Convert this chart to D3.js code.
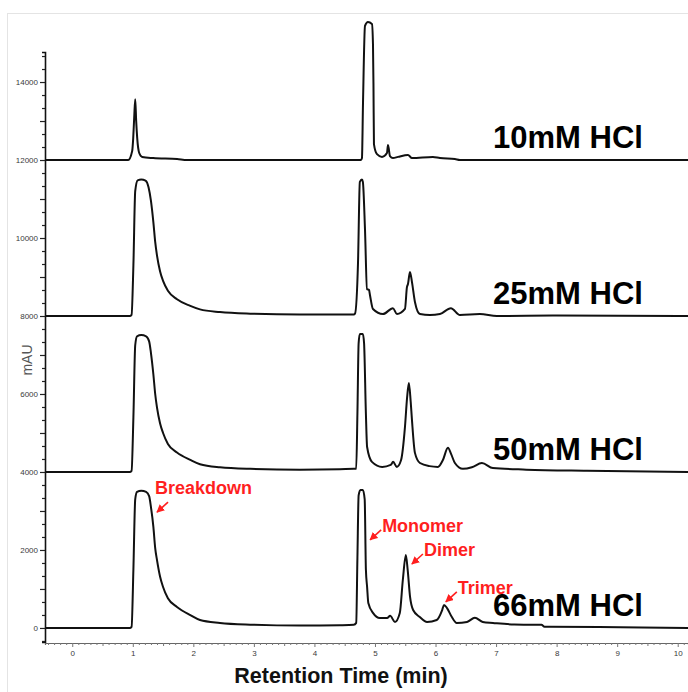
<!DOCTYPE html>
<html><head><meta charset="utf-8">
<script src="https://cdn.jsdelivr.net/npm/d3@7"></script>
<style>body{margin:0;background:#fff;} svg{display:block;}</style>
</head><body><svg id="c" width="688" height="692"></svg>
<script>
// ---------- data ----------
const seriesNames = ["10mM HCl", "25mM HCl", "50mM HCl", "66mM HCl"];
const seriesOffsets = [12000, 8000, 4000, 0];

// [retention time (min), mAU above the trace's own baseline]
const trace10mM = [[-0.45,0],[0.924,0],[0.99,230],[1.007,560],[1.023,1080],[1.04,1560],[1.056,1000],[1.073,560],[1.106,180],[1.155,80],[1.337,50],[1.733,25],[1.898,0],[4.77,0],[4.785,50],[4.802,1440],[4.835,3440],[4.884,3540],[4.95,3490],[4.967,2970],[4.975,1950],[4.983,410],[5.033,150],[5.116,80],[5.198,180],[5.215,385],[5.248,100],[5.297,50],[5.38,80],[5.545,130],[5.611,50],[5.957,80],[6.073,50],[6.32,25],[6.403,0],[10.17,0]];
const trace25mM = [[-0.45,0],[0.95,0],[0.98,30],[1.01,1300],[1.04,3200],[1.08,3480],[1.14,3500],[1.21,3470],[1.26,3300],[1.30,2950],[1.34,2400],[1.37,1900],[1.40,1550],[1.45,1150],[1.50,900],[1.58,650],[1.73,430],[1.95,260],[2.11,170],[2.44,100],[2.94,60],[3.76,40],[4.42,40],[4.65,40],[4.67,60],[4.72,1380],[4.75,3440],[4.785,3500],[4.80,3440],[4.835,2230],[4.868,690],[4.901,670],[4.917,540],[4.967,180],[5.132,50],[5.297,200],[5.363,50],[5.495,180],[5.528,740],[5.545,820],[5.578,1130],[5.611,870],[5.66,360],[5.743,50],[5.908,25],[6.073,50],[6.254,200],[6.403,25],[6.733,50],[7.013,0],[8.0,10],[10.17,0]];
const trace50mM = [[-0.45,0],[0.95,0],[0.98,30],[1.01,1400],[1.04,3250],[1.07,3480],[1.14,3510],[1.22,3480],[1.27,3350],[1.30,3050],[1.34,2500],[1.37,2000],[1.40,1650],[1.45,1250],[1.50,1000],[1.58,720],[1.73,500],[1.95,310],[2.11,200],[2.44,120],[2.94,80],[3.76,60],[4.42,70],[4.65,80],[4.69,80],[4.71,1500],[4.73,3300],[4.75,3540],[4.80,3540],[4.82,3300],[4.85,1500],[4.87,640],[4.95,260],[5.12,130],[5.26,180],[5.30,260],[5.36,130],[5.43,300],[5.495,1150],[5.53,1900],[5.56,2280],[5.59,1800],[5.611,1330],[5.66,490],[5.743,230],[5.9,150],[6.04,130],[6.12,300],[6.205,620],[6.26,450],[6.32,230],[6.452,80],[6.6,120],[6.766,230],[6.947,100],[7.5,60],[8.5,30],[9.5,10],[10.17,0]];
const trace66mM = [[-0.45,0],[0.95,0],[0.98,30],[1.01,1500],[1.04,3300],[1.07,3490],[1.14,3520],[1.22,3490],[1.27,3380],[1.30,3100],[1.34,2590],[1.37,2050],[1.40,1740],[1.45,1320],[1.50,1050],[1.58,760],[1.73,540],[1.95,330],[2.11,205],[2.44,130],[2.94,85],[3.76,60],[4.42,70],[4.65,80],[4.69,130],[4.71,1800],[4.73,3400],[4.76,3540],[4.80,3540],[4.83,3300],[4.85,1500],[4.87,1050],[4.89,640],[4.97,380],[5.08,255],[5.20,255],[5.25,310],[5.33,155],[5.41,385],[5.46,1230],[5.51,1870],[5.54,1490],[5.58,790],[5.63,460],[5.74,280],[5.86,155],[6.02,205],[6.11,460],[6.14,590],[6.19,510],[6.27,280],[6.35,130],[6.52,155],[6.65,260],[6.78,155],[6.95,130],[7.3,90],[7.75,80],[7.8,30],[8.7,25],[9.4,10],[10.17,0]];
const traces = [trace10mM, trace25mM, trace50mM, trace66mM];

const xTickValues = [0,1,2,3,4,5,6,7,8,9,10];
const yTickValues = [0,2000,4000,6000,8000,10000,12000,14000];
const xTitle = "Retention Time (min)";
const yTitle = "mAU";

// annotation arrows point at (t, absolute mAU)
const annotationLabels = ["Breakdown", "Monomer", "Dimer", "Trimer"];
const annotationTimes = [1.40, 4.92, 5.61, 6.17];
const annotationValues = [2970, 2260, 1640, 670];

// ---------- drawing ----------
const W = 688, H = 692;
const svg = d3.select("#c");
const font = "'Liberation Sans', Arial, Helvetica, sans-serif";
const x = d3.scaleLinear().domain([-0.45, 10.17]).range([45, 688]);
const y = d3.scaleLinear().domain([-360, 14770]).range([642, 52]);

// faint frame
svg.append("line").attr("x1",7.5).attr("x2",7.5).attr("y1",13).attr("y2",H).attr("stroke","#e4e4e4");
svg.append("line").attr("x1",7).attr("x2",W).attr("y1",13.5).attr("y2",13.5).attr("stroke","#e4e4e4");

// y axis
const yMinor = d3.range(-1, 45).map(i => i * 2000 / 6).filter(v => v >= -360 && v <= 14770);
const yAxis = d3.axisLeft(y).tickValues(yMinor).tickSize(3).tickFormat("");
const gy = svg.append("g").attr("transform", `translate(${x.range()[0]},0)`).call(yAxis);
gy.select(".domain").attr("stroke","#111").attr("stroke-width",1.6);
gy.selectAll(".tick line").attr("stroke","#222").attr("stroke-width",1.2)
  .attr("x2", d => (Math.abs(d % 1000) < 1 || Math.abs(d % 1000 - 1000) < 1) ? -5 : -3);
const gyl = svg.append("g").attr("transform", `translate(${x.range()[0]},0)`)
  .call(d3.axisLeft(y).tickValues(yTickValues).tickSize(0).tickPadding(7).tickFormat(d3.format("d")));
gyl.select(".domain").remove();
gyl.selectAll("text").attr("font-family", font).attr("font-size", 8).attr("fill", "#3a3a3a");

// x axis
const xMinor = d3.range(-4, 102).map(i => i / 10).filter(v => v >= -0.45 && v <= 10.17);
const gx = svg.append("g").attr("transform", `translate(0,643)`)
  .call(d3.axisBottom(x).tickValues(xMinor).tickSize(2).tickFormat(""));
gx.select(".domain").attr("stroke","#666").attr("stroke-width",1.2);
gx.selectAll(".tick line").attr("stroke","#777")
  .attr("y2", d => Math.abs(d - Math.round(d)) < 1e-6 ? 4 : (Math.abs(d*2 - Math.round(d*2)) < 1e-6 ? 3 : 2));
const gxl = svg.append("g").attr("transform", `translate(0,643)`)
  .call(d3.axisBottom(x).tickValues(xTickValues).tickSize(0).tickPadding(7).tickFormat(d3.format("d")));
gxl.select(".domain").remove();
gxl.selectAll("text").attr("font-family", font).attr("font-size", 8).attr("fill", "#3a3a3a");

// titles
svg.append("text").attr("x", 341).attr("y", 683)
  .attr("text-anchor","middle").attr("font-family", font).attr("font-weight","bold")
  .attr("font-size", 21.5).attr("fill","#111").text(xTitle);
svg.append("text").attr("transform", `translate(32,360) rotate(-90)`)
  .attr("text-anchor","middle").attr("font-family", font)
  .attr("font-size", 14).attr("fill","#555").text(yTitle);

// traces
const line = d3.line().curve(d3.curveMonotoneX);
traces.forEach((tr, i) => {
  const off = seriesOffsets[i];
  svg.append("path")
    .attr("d", line(tr.map(p => [x(p[0]), y(p[1] + off)])))
    .attr("fill","none").attr("stroke","#111").attr("stroke-width",2)
    .attr("stroke-linejoin","round");
  svg.append("text").attr("x", x(7.0) - 3).attr("y", y(off) - 12)
    .attr("font-family", font).attr("font-weight","bold").attr("font-size", 31)
    .attr("fill","#000").text(seriesNames[i]);
});

// annotations
const red = "#ff1f1f";
svg.append("defs").append("marker").attr("id","ah").attr("viewBox","0 0 10 10")
  .attr("refX",9).attr("refY",5).attr("markerWidth",5).attr("markerHeight",5)
  .attr("orient","auto").append("path").attr("d","M0,0L10,5L0,10z").attr("fill",red);
annotationLabels.forEach((lab, i) => {
  const px = x(annotationTimes[i]), py = y(annotationValues[i]);
  svg.append("line").attr("x1", px + 11).attr("y1", py - 10).attr("x2", px).attr("y2", py)
    .attr("stroke", red).attr("stroke-width", 1.6).attr("marker-end","url(#ah)");
  svg.append("text").attr("x", px + (i === 0 ? -2 : 12)).attr("y", py - (i === 0 ? 18 : 8))
    .attr("font-family", font).attr("font-weight","bold").attr("font-size", 18)
    .attr("fill", red).text(lab);
});
</script></body></html>
